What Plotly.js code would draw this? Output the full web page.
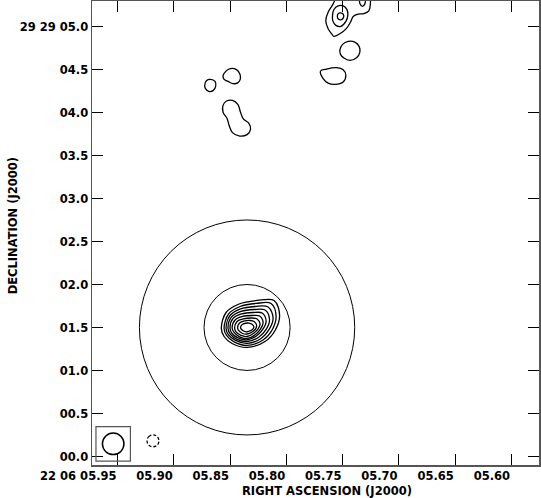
<!DOCTYPE html>
<html>
<head>
<meta charset="utf-8">
<script src="https://cdn.plot.ly/plotly-3.0.1.min.js"></script>
<style>html,body{margin:0;padding:0;background:#fff}</style>
</head>
<body>
<div id="graf" style="width:541px;height:498px"></div>
<script>
// axis ticks (RA seconds of 22h06m, Dec arcsec of +29d29m)
var raTicks = [5.95, 5.90, 5.85, 5.80, 5.75, 5.70, 5.65, 5.60];
var raLabels = ['22 06 05.95', '05.90', '05.85', '05.80', '05.75', '05.70', '05.65', '05.60'];
var decTicks = [0.0, 0.5, 1.0, 1.5, 2.0, 2.5, 3.0, 3.5, 4.0, 4.5, 5.0];
var decLabels = ['00.0', '00.5', '01.0', '01.5', '02.0', '02.5', '03.0', '03.5', '04.0', '04.5', '29 29 05.0'];

// map centre (source) and declination for the RA scale
var srcRA = 5.835;
var srcDec = 1.503;
var decDeg = 29.4837;

// circles round the source, radius in arcsec
var ringRadii = [0.5, 1.25];

// restoring beam (arcsec)
var beamSize = [0.25, 0.25];

// central source contours, offsets from source in arcsec (east, north)
var coreE = [
  [0.299, 0.244, 0.093, -0.116, -0.314, -0.378, -0.325, -0.209, 0, 0.174, 0.267],
  [0.267, 0.215, 0.081, -0.105, -0.279, -0.337, -0.291, -0.186, 0, 0.151, 0.238],
  [0.244, 0.198, 0.076, -0.093, -0.244, -0.302, -0.256, -0.163, 0, 0.134, 0.215],
  [0.221, 0.180, 0.070, -0.081, -0.209, -0.261, -0.221, -0.139, 0, 0.116, 0.192],
  [0.198, 0.163, 0.064, -0.070, -0.174, -0.221, -0.186, -0.116, 0, 0.105, 0.174],
  [0.174, 0.139, 0.052, -0.058, -0.145, -0.186, -0.157, -0.099, 0, 0.087, 0.151],
  [0.145, 0.116, 0.041, -0.046, -0.116, -0.151, -0.128, -0.081, 0, 0.070, 0.128],
  [0.110, 0.087, 0.029, -0.035, -0.081, -0.110, -0.099, -0.058, 0, 0.052, 0.099],
  [0.076, 0.058, 0.017, -0.023, -0.058, -0.079, -0.070, -0.041, 0, 0.041, 0.067]
];
var coreN = [
  [-0.012, 0.174, 0.273, 0.314, 0.314, 0.139, -0.035, -0.163, -0.232, -0.186, -0.105],
  [-0.012, 0.157, 0.244, 0.279, 0.279, 0.128, -0.029, -0.145, -0.209, -0.168, -0.093],
  [-0.012, 0.139, 0.215, 0.244, 0.238, 0.110, -0.023, -0.128, -0.186, -0.151, -0.087],
  [-0.012, 0.122, 0.186, 0.209, 0.203, 0.093, -0.023, -0.110, -0.163, -0.139, -0.081],
  [-0.012, 0.105, 0.157, 0.174, 0.168, 0.076, -0.017, -0.093, -0.145, -0.122, -0.070],
  [-0.006, 0.087, 0.128, 0.139, 0.134, 0.058, -0.017, -0.081, -0.128, -0.110, -0.058],
  [-0.006, 0.070, 0.099, 0.110, 0.099, 0.041, -0.017, -0.064, -0.105, -0.093, -0.052],
  [0, 0.052, 0.076, 0.081, 0.070, 0.029, -0.017, -0.052, -0.076, -0.070, -0.035],
  [0, 0.033, 0.049, 0.051, 0.037, 0.009, -0.017, -0.037, -0.050, -0.041, -0.021]
];

// northern knots, closed contours (east, north offsets in arcsec)
var knotE = [
  [0.492, 0.472, 0.425, 0.372, 0.364, 0.395, 0.445, 0.483],
  [0.279, 0.248, 0.193, 0.123, 0.085, 0.077, 0.105, 0.163, 0.221, 0.267],
  [0.279, 0.239, 0.170, 0.105, 0.077, 0.046, -0.023, -0.040, 0, 0.085, 0.170, 0.209, 0.232, 0.279],
  [-0.853, -0.923, -1.039, -1.116, -1.147, -1.116, -1.019, -0.941, -0.883],
  [-1.077, -1.109, -1.174, -1.251, -1.301, -1.310, -1.271, -1.193, -1.124, -1.085],
  [-0.992, -1.007, -1.057, -1.116, -1.159, -1.170, -1.147, -1.089, -1.031, -0.996],
  [-1.048, -1.060, -1.089, -1.118, -1.118, -1.089, -1.060]
];
var knotN = [
  [2.816, 2.870, 2.885, 2.862, 2.807, 2.754, 2.746, 2.777],
  [2.924, 2.978, 3.010, 2.998, 2.951, 2.893, 2.847, 2.835, 2.862, 2.885],
  [2.583, 2.633, 2.641, 2.591, 2.505, 2.429, 2.370, 2.304, 2.243, 2.226, 2.266, 2.351, 2.429, 2.505],
  [2.982, 3.005, 3.021, 2.998, 2.932, 2.854, 2.827, 2.842, 2.893],
  [3.222, 3.292, 3.327, 3.319, 3.269, 3.202, 3.137, 3.106, 3.133, 3.176],
  [3.629, 3.695, 3.739, 3.739, 3.699, 3.629, 3.559, 3.501, 3.513, 3.565],
  [3.617, 3.652, 3.658, 3.641, 3.600, 3.577, 3.588]
];

// contours running off the top edge (open)
var edgeE = [
  [-1.042, -0.996, -0.941, -0.914, -0.941, -0.981, -1.007, -1.077, -1.155, -1.205, -1.232, -1.290, -1.356, -1.414, -1.432, -1.432],
  [-1.304, -1.310, -1.339, -1.368, -1.373]
];
var edgeN = [
  [3.861, 3.757, 3.667, 3.571, 3.474, 3.416, 3.385, 3.416, 3.478, 3.559, 3.617, 3.644, 3.649, 3.681, 3.768, 3.861],
  [3.850, 3.768, 3.734, 3.763, 3.850]
];

// negative contour
var negE = [1.162, 1.142, 1.092, 1.043, 1.023, 1.043, 1.092, 1.142];
var negN = [-1.318, -1.269, -1.248, -1.269, -1.318, -1.368, -1.387, -1.368];

var secScale = 15 * Math.cos(decDeg * Math.PI / 180); // arcsec per RA second
function toRA(e) { return srcRA + e / secScale; }
function toDec(n) { return srcDec + n; }

var xRange = [5.9729, 5.5754];
var yRange = [-0.0964, 5.2995];

var data = [];
function addLine(e, n, closed, dash) {
  var xs = e.map(toRA), ys = n.map(toDec);
  if (closed) { xs.push(xs[0]); ys.push(ys[0]); }
  data.push({
    x: xs, y: ys, type: 'scatter', mode: 'lines', hoverinfo: 'skip',
    line: {color: '#000', width: 1.3, shape: 'spline', smoothing: 1, dash: dash || 'solid'}
  });
}
for (var i = 0; i < coreE.length; i++) addLine(coreE[i], coreN[i], true);
for (var j = 0; j < knotE.length; j++) addLine(knotE[j], knotN[j], true);
for (var k = 0; k < edgeE.length; k++) addLine(edgeE[k], edgeN[k], false);
addLine(negE, negN, true, '3px,2px');

var shapes = [];
ringRadii.forEach(function (r) {
  shapes.push({
    type: 'circle', xref: 'x', yref: 'y',
    x0: toRA(r), x1: toRA(-r), y0: toDec(-r), y1: toDec(r),
    line: {color: '#000', width: 1}
  });
});

// beam in the lower left corner, inside a box
var boxHalf = 0.8 * beamSize[0];
var inset = 0.046;
var bx = xRange[0] - (inset + boxHalf) / secScale;
var by = yRange[0] + inset + boxHalf;
shapes.push({
  type: 'rect', xref: 'x', yref: 'y',
  x0: bx + boxHalf / secScale, x1: bx - boxHalf / secScale, y0: by - boxHalf, y1: by + boxHalf,
  line: {color: '#555', width: 1.2}
});
shapes.push({
  type: 'circle', xref: 'x', yref: 'y',
  x0: bx + beamSize[0] / 2 / secScale, x1: bx - beamSize[0] / 2 / secScale,
  y0: by - beamSize[1] / 2, y1: by + beamSize[1] / 2,
  line: {color: '#000', width: 1.5}
});

var tickFont = {family: 'DejaVu Sans, sans-serif', size: 11.5, color: '#000', weight: 'bold'};

var layout = {
  width: 541, height: 498,
  margin: {l: 92, r: 2, t: 1, b: 33},
  paper_bgcolor: '#fff', plot_bgcolor: '#fff',
  showlegend: false,
  xaxis: {
    range: xRange, tickmode: 'array', tickvals: raTicks, ticktext: raLabels,
    ticks: 'inside', ticklen: 11, tickwidth: 1, tickcolor: '#000',
    showline: true, linecolor: '#555', linewidth: 1.5, mirror: 'ticks',
    showgrid: false, zeroline: false, tickfont: tickFont, tickangle: 0,
    ticklabelposition: 'outside left'
  },
  yaxis: {
    range: yRange, tickmode: 'array', tickvals: decTicks, ticktext: decLabels,
    ticks: 'inside', ticklen: 11, tickwidth: 1, tickcolor: '#000',
    showline: true, linecolor: '#555', linewidth: 1.5, mirror: 'ticks',
    showgrid: false, zeroline: false, tickfont: tickFont
  },
  shapes: shapes,
  annotations: [
    {text: 'RIGHT ASCENSION (J2000)', xref: 'paper', yref: 'paper', x: 0.526, y: -0.056,
     xanchor: 'center', yanchor: 'middle', showarrow: false, font: tickFont},
    {text: 'DECLINATION (J2000)', xref: 'paper', yref: 'paper', x: -0.176, y: 0.515,
     xanchor: 'center', yanchor: 'middle', textangle: -90, showarrow: false, font: tickFont}
  ]
};

Plotly.newPlot('graf', data, layout, {staticPlot: true});
</script>
</body>
</html>
